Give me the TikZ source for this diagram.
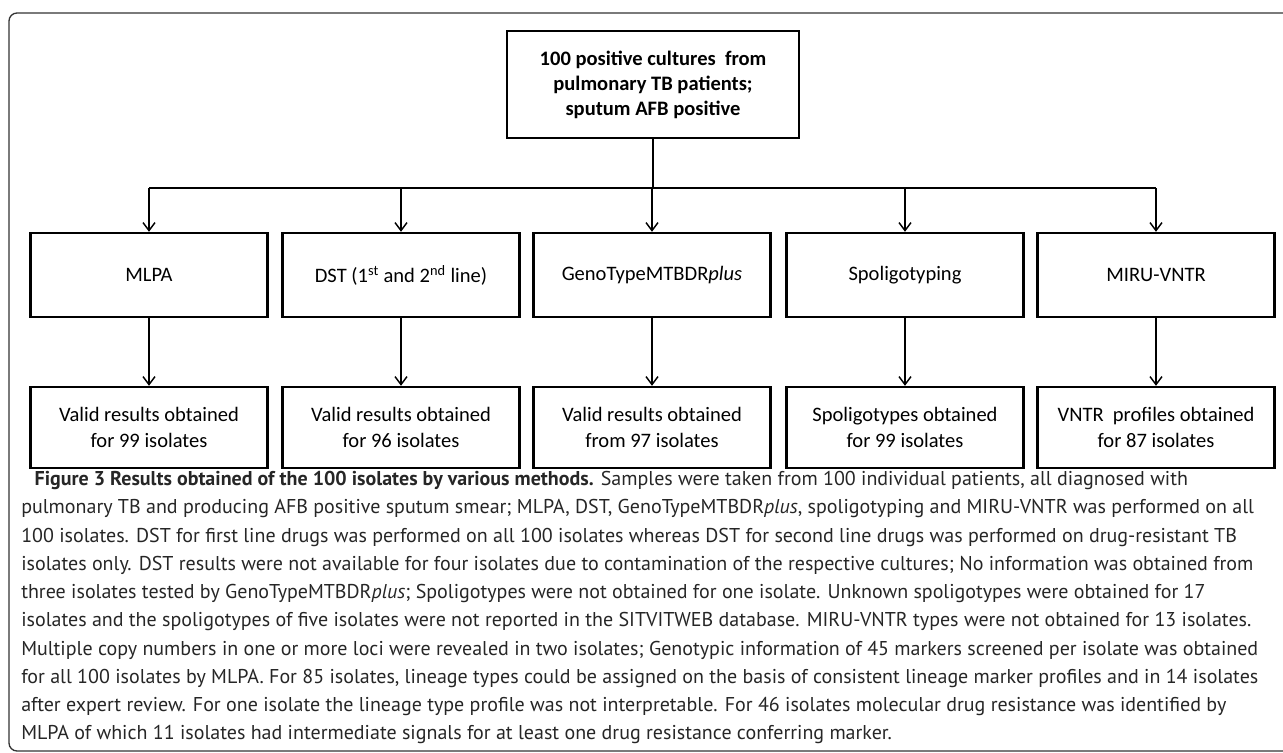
\documentclass[tikz,border=0pt]{standalone}
\usepackage{fontspec}
\setmainfont{Carlito}
\newfontfamily\capfont{PT Sans}
\usetikzlibrary{arrows.meta}

\begin{document}
\begin{tikzpicture}[x=0.75pt,y=-0.75pt,
	box/.style={shape=rectangle,draw=black,line width=1.8pt,minimum width=177.75pt,minimum height=63pt,align=center,font=\fontsize{15.4pt}{19pt}\selectfont},
	res/.style={box,minimum height=60.75pt},
	arr/.style={-{Straight Barb[length=6pt,width=9pt]},line width=1.1pt}]
	\useasboundingbox (0,0) rectangle (1283,753);
	\draw [rounded corners=6pt,line width=1pt,black!80] (9,13) rectangle (1300,751);

	\node [box,minimum width=219pt,minimum height=80.25pt,font=\bfseries\fontsize{15.4pt}{18.75pt}\selectfont] (S) at (653,84.5) {100 positive cultures\ \ from\\pulmonary TB patients;\\sputum AFB positive};

	\node [box] (M1) at (149,275) {MLPA};
	\node [box] (M2) at (401,275) {DST (1\textsuperscript{st} and 2\textsuperscript{nd} line)};
	\node [box] (M3) at (652,275) {GenoTypeMTBDR\textit{plus}};
	\node [box] (M4) at (905,275) {Spoligotyping};
	\node [box] (M5) at (1156,275) {MIRU-VNTR};

	\node [res] (R1) at (149,427.5) {Valid results obtained\\for 99 isolates};
	\node [res] (R2) at (401,427.5) {Valid results obtained\\for 96 isolates};
	\node [res] (R3) at (652,427.5) {Valid results obtained\\from 97 isolates};
	\node [res] (R4) at (905,427.5) {Spoligotypes obtained\\for 99 isolates};
	\node [res] (R5) at (1156,427.5) {VNTR\ \ profiles obtained\\for 87 isolates};

	\coordinate (J) at (653,188);
	\draw [line width=1.8pt] (S) -- (J);
	\draw [line width=1.1pt] (M1.north |- J) -- (M5.north |- J);
	\foreach \i in {1,...,5} {
		\draw [arr] (M\i.north |- J) -- (M\i);
		\draw [arr] (M\i) -- (R\i);
	}

	\node [anchor=north west,inner sep=0pt,align=left,text=black!85,font=\capfont\fontsize{15pt}{21.2pt}\selectfont] (C) at (21,471) {\hspace*{10pt}\textbf{Figure 3 Results obtained of the 100 isolates by various methods.} Samples were taken from 100 individual patients, all diagnosed with\\
	pulmonary TB and producing AFB positive sputum smear; MLPA, DST, GenoTypeMTBDR\textit{plus}, spoligotyping and MIRU-VNTR was performed on all\\
	100 isolates. DST for first line drugs was performed on all 100 isolates whereas DST for second line drugs was performed on drug-resistant TB\\
	isolates only. DST results were not available for four isolates due to contamination of the respective cultures; No information was obtained from\\
	three isolates tested by GenoTypeMTBDR\textit{plus}; Spoligotypes were not obtained for one isolate. Unknown spoligotypes were obtained for 17\\
	isolates and the spoligotypes of five isolates were not reported in the SITVITWEB database. MIRU-VNTR types were not obtained for 13 isolates.\\
	Multiple copy numbers in one or more loci were revealed in two isolates; Genotypic information of 45 markers screened per isolate was obtained\\
	for all 100 isolates by MLPA. For 85 isolates, lineage types could be assigned on the basis of consistent lineage marker profiles and in 14 isolates\\
	after expert review. For one isolate the lineage type profile was not interpretable. For 46 isolates molecular drug resistance was identified by\\
	MLPA of which 11 isolates had intermediate signals for at least one drug resistance conferring marker.};
\end{tikzpicture}
\end{document}
